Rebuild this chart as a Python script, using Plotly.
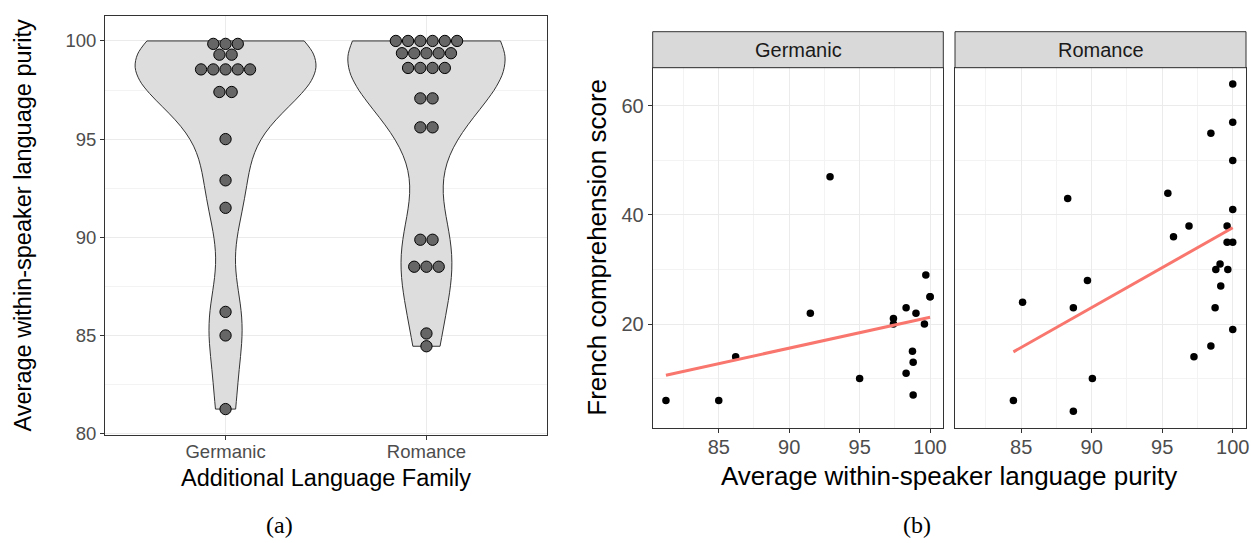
import numpy as np
import plotly.graph_objects as go

FAMILIES = ["Germanic", "Romance"]

# per-speaker values: average within-speaker language purity (%) and French comprehension score
germanic_purity = [81.25, 85.0, 86.2, 91.5, 92.9, 95.0, 97.4, 97.4, 98.3, 98.3,
                   98.75, 98.8, 98.8, 99.0, 99.6, 99.7, 100.0, 100.0]
germanic_score = [6, 6, 14, 22, 47, 10, 21, 20, 23, 11,
                  15, 13, 7, 22, 20, 29, 25, 25]

romance_purity = [100.0, 100.0, 98.45, 100.0, 88.3, 95.4, 100.0, 96.9, 99.6, 95.8,
                  99.6, 100.0, 99.1, 98.8, 99.65, 99.15, 89.7, 85.1, 88.7, 98.75,
                  100.0, 98.45, 97.25, 90.05, 84.45, 88.7]
romance_score = [64, 57, 55, 50, 43, 44, 41, 38, 38, 36,
                 35, 35, 31, 30, 30, 27, 28, 24, 23, 23,
                 19, 16, 14, 10, 6, 4]

purity = [germanic_purity, romance_purity]
score = [germanic_score, romance_score]

W, H = 1251, 543
FONT = "Liberation Sans, Arial, sans-serif"
GRID = "#ebebeb"
MINOR = "#f3f3f3"
BORDER = "#333333"
TICKTXT = "#4d4d4d"


def px(x):
    return x / W


def py(y):
    return 1 - y / H


def nrd0(v):
    # R's bw.nrd0, same as ggplot's default violin bandwidth
    v = np.asarray(v, float)
    q75, q25 = np.percentile(v, [75, 25])
    return 0.9 * min(np.std(v, ddof=1), (q75 - q25) / 1.34) * len(v) ** -0.2


def kde_peak(v, bw):
    v = np.asarray(v, float)
    g = np.linspace(v.min(), v.max(), 512)
    d = np.exp(-0.5 * ((g[:, None] - v[None, :]) / bw) ** 2).sum(1)
    return (d / (len(v) * bw * np.sqrt(2 * np.pi))).max()


def dot_bins(values, bw):
    # ggplot dotdensity binning
    bins, end = [], -np.inf
    for x in sorted(values):
        if x >= end:
            bins.append([])
            end = x + bw
        bins[-1].append(x)
    return [((b[0] + b[-1]) / 2, len(b)) for b in bins]


fig = go.Figure()

# (a) violin + dotplot
all_p = germanic_purity + romance_purity
binwidth = (max(all_p) - min(all_p)) / 30
bws = [nrd0(p) for p in purity]
peaks = [kde_peak(p, b) for p, b in zip(purity, bws)]
DOT_PITCH = 0.061

for i, fam in enumerate(FAMILIES):
    fig.add_trace(go.Violin(
        x0=i, y=purity[i], name=fam, bandwidth=bws[i], spanmode="hard",
        scalemode="width", width=0.9 * peaks[i] / max(peaks),
        fillcolor="#dddddd", line=dict(color=BORDER, width=1),
        points=False, box_visible=False, meanline_visible=False,
        hoverinfo="skip", showlegend=False, xaxis="x", yaxis="y"))

for i, fam in enumerate(FAMILIES):
    dx, dy = [], []
    for center, n in dot_bins(purity[i], binwidth):
        for k in range(n):
            dx.append(i + (k - (n - 1) / 2) * DOT_PITCH)
            dy.append(center)
    fig.add_trace(go.Scatter(
        x=dx, y=dy, mode="markers", showlegend=False, hoverinfo="skip",
        marker=dict(size=11.3, color="#666666", line=dict(color="black", width=1)),
        xaxis="x", yaxis="y"))

# (b) faceted scatter + lm fit
for i, fam in enumerate(FAMILIES):
    ax = "x%d" % (i + 2)
    ay = "y%d" % (i + 2)
    fig.add_trace(go.Scatter(
        x=purity[i], y=score[i], mode="markers", showlegend=False,
        marker=dict(size=7.5, color="black"), xaxis=ax, yaxis=ay))
    slope, icpt = np.polyfit(purity[i], score[i], 1)
    xs = np.array([min(purity[i]), max(purity[i])])
    fig.add_trace(go.Scatter(
        x=xs, y=slope * xs + icpt, mode="lines", showlegend=False,
        line=dict(color="#F8766D", width=3), xaxis=ax, yaxis=ay))

axis_common = dict(
    showline=True, mirror=True, linecolor=BORDER, linewidth=1,
    ticks="outside", ticklen=4, tickcolor=BORDER, zeroline=False,
    showgrid=True, gridcolor=GRID, gridwidth=1.3, automargin=False,
)

left_dom_x = [px(105), px(547)]
left_dom_y = [py(435), py(16)]
right_dom_y = [py(427.7), py(67.7)]
germ_dom_x = [px(652.7), px(943.3)]
rom_dom_x = [px(955), px(1246)]

fig.update_layout(
    width=W, height=H, margin=dict(l=0, r=0, t=0, b=0),
    paper_bgcolor="white", plot_bgcolor="white",
    font=dict(family=FONT, color="black"),
    xaxis=dict(axis_common, domain=left_dom_x, anchor="y", range=[-0.6, 1.6],
               tickvals=[0, 1], ticktext=FAMILIES, ticklabelstandoff=-4,
               tickfont=dict(size=18.5, color=TICKTXT)),
    yaxis=dict(axis_common, domain=left_dom_y, anchor="x", range=[79.93, 101.27],
               tickvals=[80, 85, 90, 95, 100],
               minor=dict(tickvals=[82.5, 87.5, 92.5, 97.5], showgrid=True,
                          gridcolor=MINOR, gridwidth=1, ticks=""),
               tickfont=dict(size=18.5, color=TICKTXT)),
    xaxis2=dict(axis_common, domain=germ_dom_x, anchor="y2", range=[80.31, 100.94],
                tickvals=[85, 90, 95, 100], ticklabelstandoff=-3,
                minor=dict(tickvals=[82.5, 87.5, 92.5, 97.5], showgrid=True,
                           gridcolor=MINOR, gridwidth=1, ticks=""),
                tickfont=dict(size=20, color=TICKTXT)),
    yaxis2=dict(axis_common, domain=right_dom_y, anchor="x2", range=[1, 67],
                tickvals=[20, 40, 60],
                minor=dict(tickvals=[10, 30, 50], showgrid=True,
                           gridcolor=MINOR, gridwidth=1, ticks=""),
                tickfont=dict(size=20, color=TICKTXT)),
    xaxis3=dict(axis_common, domain=rom_dom_x, anchor="y3", range=[80.31, 100.94],
                tickvals=[85, 90, 95, 100], ticklabelstandoff=-3,
                minor=dict(tickvals=[82.5, 87.5, 92.5, 97.5], showgrid=True,
                           gridcolor=MINOR, gridwidth=1, ticks=""),
                tickfont=dict(size=20, color=TICKTXT)),
    yaxis3=dict(axis_common, domain=right_dom_y, anchor="x3", range=[1, 67],
                tickvals=[20, 40, 60], showticklabels=False, ticks="",
                minor=dict(tickvals=[10, 30, 50], showgrid=True,
                           gridcolor=MINOR, gridwidth=1, ticks="")),
)

# facet strips
shapes = []
annotations = []
for dom, fam in zip([germ_dom_x, rom_dom_x], FAMILIES):
    shapes.append(dict(type="rect", xref="paper", yref="paper",
                       x0=dom[0], x1=dom[1], y0=py(67.7), y1=py(31.7),
                       fillcolor="#d9d9d9", line=dict(color=BORDER, width=1)))
    annotations.append(dict(text=fam, xref="paper", yref="paper",
                            x=(dom[0] + dom[1]) / 2, y=py(49.7),
                            xanchor="center", yanchor="middle", showarrow=False,
                            font=dict(size=20, color="#1a1a1a")))


def label(text, x, y, size, angle=0, family=FONT):
    annotations.append(dict(text=text, xref="paper", yref="paper", x=px(x), y=py(y),
                            xanchor="center", yanchor="middle", showarrow=False,
                            textangle=angle, font=dict(size=size, color="black", family=family)))


label("Average within-speaker language purity", 22, 225.5, 23.5, angle=-90)
label("Additional Language Family", 326, 478, 23.5)
label("French comprehension score", 597, 247.7, 26, angle=-90)
label("Average within-speaker language purity", 949, 476, 26)
label("(a)", 279, 525, 24, family="Liberation Serif, serif")
label("(b)", 917, 525, 24, family="Liberation Serif, serif")

fig.update_layout(shapes=shapes, annotations=annotations)

# drop the page's default body margin so the figure sits at the window's corner
fig.write_html("out.html", config={"displayModeBar": False},
               post_script="document.body.style.margin='0';")
